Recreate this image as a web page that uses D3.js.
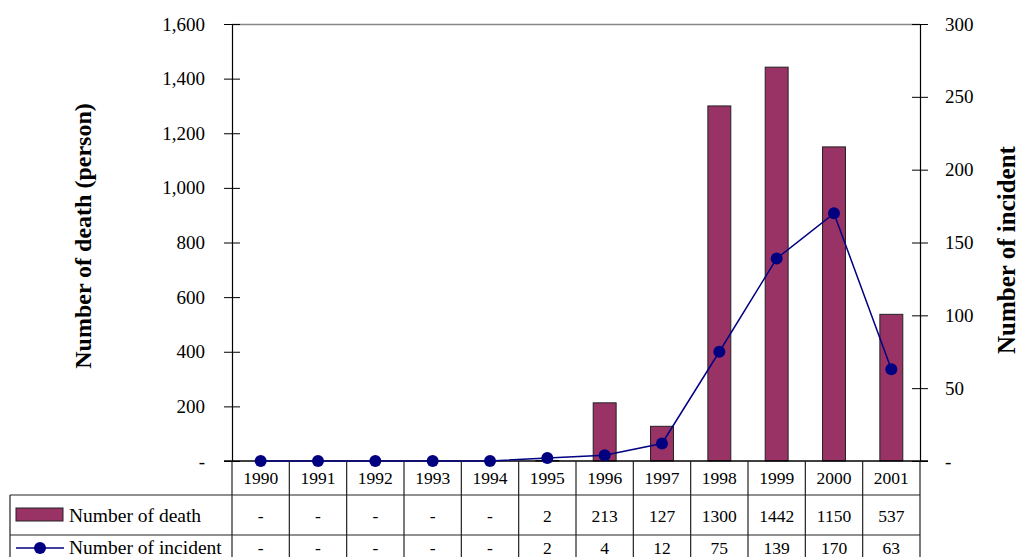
<!DOCTYPE html>
<html>
<head>
<meta charset="utf-8">
<script src="https://cdn.jsdelivr.net/npm/d3@7/dist/d3.min.js"></script>
<style>
  body { margin: 0; background: #fff; }
  svg { display: block; }
  svg text { font-family: "Liberation Serif", "Times New Roman", serif; }
</style>
</head>
<body>
<svg id="chart" width="1021" height="557"></svg>
<script>
// Yearly deaths (bars, left axis) and incidents (line, right axis)
const years = ["1990","1991","1992","1993","1994","1995","1996","1997","1998","1999","2000","2001"];
const deaths = [0, 0, 0, 0, 0, 2, 213, 127, 1300, 1442, 1150, 537];
const incidents = [0, 0, 0, 0, 0, 2, 4, 12, 75, 139, 170, 63];
const deathLabels = ["-","-","-","-","-","2","213","127","1300","1442","1150","537"];
const incidentLabels = ["-","-","-","-","-","2","4","12","75","139","170","63"];
const leftTicks = [0, 200, 400, 600, 800, 1000, 1200, 1400, 1600];
const rightTicks = [0, 50, 100, 150, 200, 250, 300];
const seriesNames = ["Number of death", "Number of incident"];

const barColor = "#993366";
const lineColor = "#000080";
const serif = "Liberation Serif";

const svg = d3.select("#chart");
const plot = { left: 232, right: 920, top: 24, bottom: 461 };

const x = d3.scaleBand().domain(years).range([plot.left, plot.right]);
const yL = d3.scaleLinear().domain([0, 1600]).range([plot.bottom, plot.top]);
const yR = d3.scaleLinear().domain([0, 300]).range([plot.bottom, plot.top]);

const fmtL = d => d === 0 ? "-" : d3.format(",")(d);
const fmtR = d => d === 0 ? "-" : String(d);

// top frame line of the plot area
svg.append("line")
  .attr("x1", plot.left).attr("x2", plot.right)
  .attr("y1", plot.top + 0.5).attr("y2", plot.top + 0.5)
  .attr("stroke", "#888").attr("stroke-width", 1.5);

// left axis
const axL = svg.append("g").attr("transform", `translate(${plot.left},0)`)
  .call(d3.axisLeft(yL).tickValues(leftTicks).tickFormat(fmtL).tickSize(8).tickPadding(19));
axL.select(".domain").attr("stroke", "#000").attr("stroke-width", 1.2);
axL.selectAll(".tick line").attr("x2", 8).attr("x1", -8).attr("stroke", "#000");
axL.selectAll(".tick text").attr("font-size", 19).attr("font-family", serif).attr("fill", "#000");

// right axis
const axR = svg.append("g").attr("transform", `translate(${plot.right},0)`)
  .call(d3.axisRight(yR).tickValues(rightTicks).tickFormat(fmtR).tickSize(8).tickPadding(17));
axR.select(".domain").attr("stroke", "#000").attr("stroke-width", 1.2);
axR.selectAll(".tick line").attr("x1", -8).attr("x2", 8).attr("stroke", "#000");
axR.selectAll(".tick text").attr("font-size", 19).attr("font-family", serif).attr("fill", "#000");

// axis titles
svg.append("text")
  .attr("transform", "translate(91,236) rotate(-90)")
  .attr("text-anchor", "middle").attr("font-weight", "bold").attr("font-size", 24)
  .attr("font-family", serif)
  .text("Number of death (person)");
svg.append("text")
  .attr("transform", "translate(1015,250) rotate(-90)")
  .attr("text-anchor", "middle").attr("font-weight", "bold").attr("font-size", 25)
  .attr("font-family", serif)
  .text("Number of incident");

// bars
const barW = x.bandwidth() * 0.4;
svg.append("g").selectAll("rect").data(years).join("rect")
  .attr("x", d => x(d) + (x.bandwidth() - barW) / 2)
  .attr("width", barW)
  .attr("y", (d, i) => yL(deaths[i]))
  .attr("height", (d, i) => plot.bottom - yL(deaths[i]))
  .attr("fill", barColor)
  .attr("stroke", "#222").attr("stroke-width", 1);

// category axis baseline
svg.append("line")
  .attr("x1", plot.left - 8).attr("x2", plot.right + 8)
  .attr("y1", plot.bottom).attr("y2", plot.bottom)
  .attr("stroke", "#000").attr("stroke-width", 1.5);

// incident line
const line = d3.line()
  .x((d, i) => x(years[i]) + x.bandwidth() / 2)
  .y(d => yR(d));
svg.append("path").datum(incidents)
  .attr("d", line).attr("fill", "none")
  .attr("stroke", lineColor).attr("stroke-width", 1.5);
svg.append("g").selectAll("circle").data(incidents).join("circle")
  .attr("cx", (d, i) => x(years[i]) + x.bandwidth() / 2)
  .attr("cy", d => yR(d))
  .attr("r", 6)
  .attr("fill", lineColor);

// data table
const tbl = { legendLeft: 10, row0: plot.bottom, row1: 495, row2: 535, row3: 580 };
const tg = svg.append("g").attr("stroke", "#222").attr("stroke-width", 1.2);
const colEdges = years.map(y => x(y)).concat([plot.right]);
tg.selectAll("line.v").data(colEdges).join("line")
  .attr("x1", d => d).attr("x2", d => d)
  .attr("y1", tbl.row0).attr("y2", tbl.row3);
[tbl.row1, tbl.row2].forEach(yy => {
  tg.append("line").attr("x1", tbl.legendLeft).attr("x2", plot.right)
    .attr("y1", yy).attr("y2", yy);
});
tg.append("line").attr("x1", tbl.legendLeft).attr("x2", tbl.legendLeft)
  .attr("y1", tbl.row1).attr("y2", tbl.row3);

const tt = svg.append("g").attr("font-size", 17.5).attr("font-family", serif)
  .attr("text-anchor", "middle").attr("fill", "#000");
tt.selectAll("text.yr").data(years).join("text")
  .attr("x", d => x(d) + x.bandwidth() / 2).attr("y", 484).text(d => d);
tt.selectAll("text.dl").data(deathLabels).join("text")
  .attr("x", (d, i) => x(years[i]) + x.bandwidth() / 2).attr("y", 522).text(d => d);
tt.selectAll("text.il").data(incidentLabels).join("text")
  .attr("x", (d, i) => x(years[i]) + x.bandwidth() / 2).attr("y", 554).text(d => d);

// legend keys inside the table
svg.append("rect").attr("x", 16).attr("y", 508).attr("width", 47).attr("height", 13)
  .attr("fill", barColor).attr("stroke", "#222").attr("stroke-width", 1);
svg.append("line").attr("x1", 16).attr("x2", 64).attr("y1", 548).attr("y2", 548)
  .attr("stroke", lineColor).attr("stroke-width", 1.5);
svg.append("circle").attr("cx", 40).attr("cy", 548).attr("r", 6).attr("fill", lineColor);
svg.append("text").attr("x", 69).attr("y", 522).attr("font-size", 19.5).attr("font-family", serif).text(seriesNames[0]);
svg.append("text").attr("x", 69).attr("y", 554).attr("font-size", 19.5).attr("font-family", serif).text(seriesNames[1]);
</script>
</body>
</html>
